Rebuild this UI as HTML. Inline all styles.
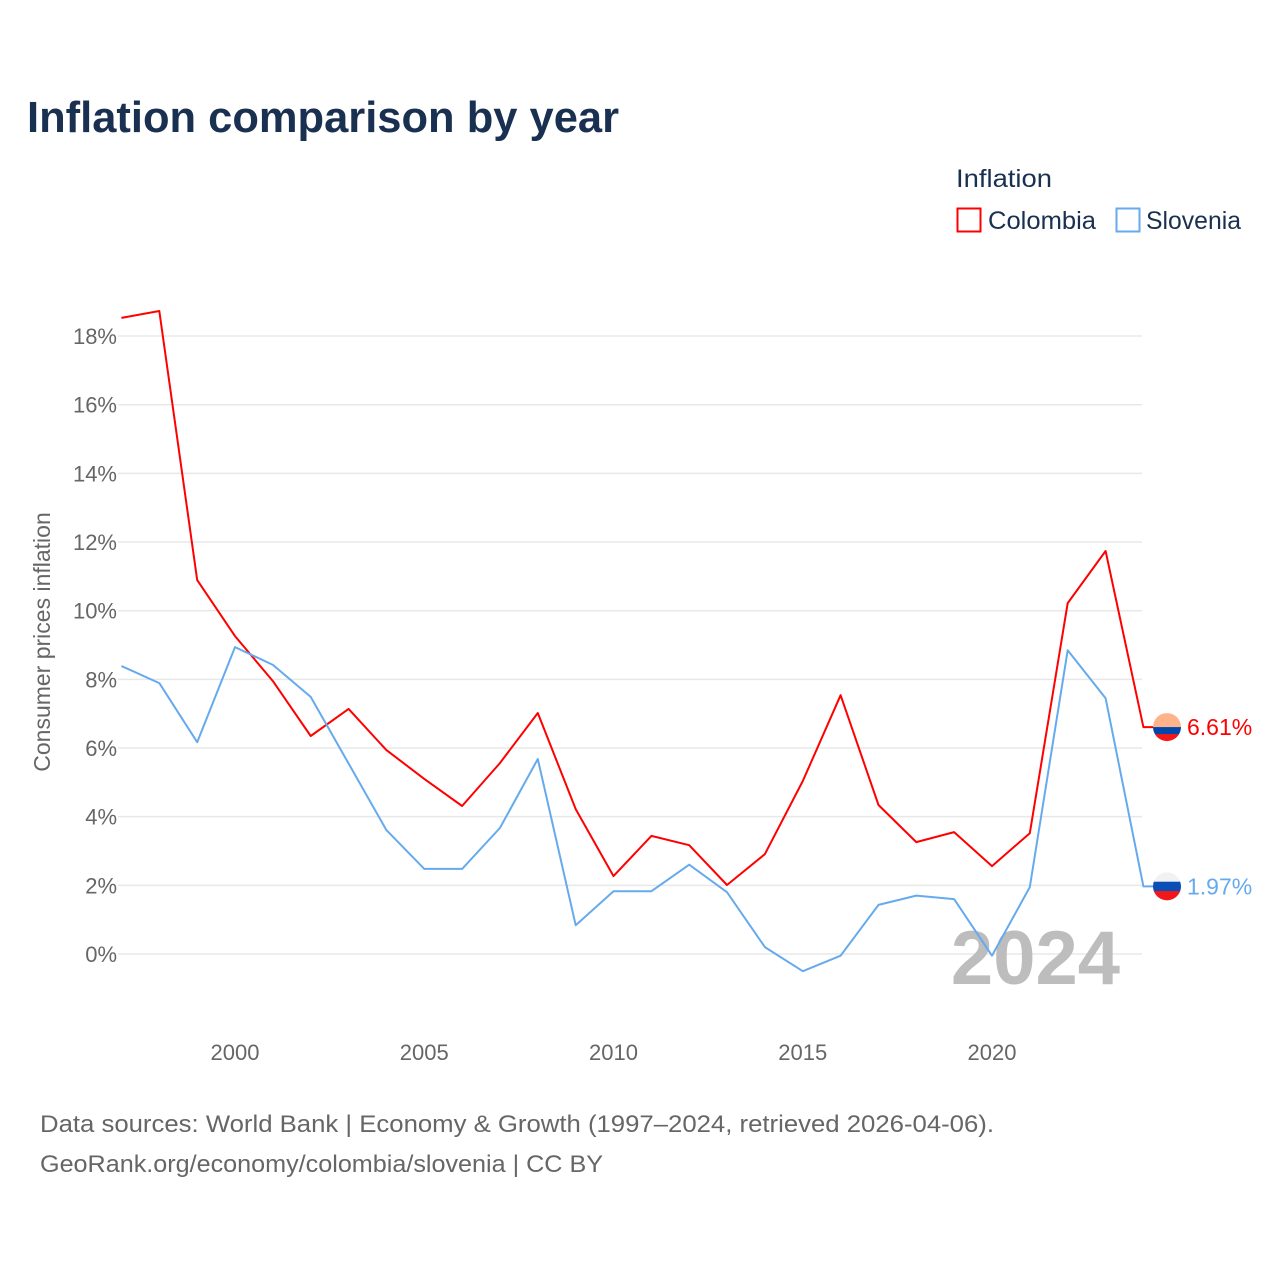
<!DOCTYPE html>
<html><head><meta charset="utf-8">
<style>
html,body{margin:0;padding:0;background:#fff;}
svg{display:block;font-family:"Liberation Sans",sans-serif;}
</style></head>
<body>
<svg id="chart" width="1280" height="1280" viewBox="0 0 1280 1280">
  <text x="27" y="132" font-size="44" font-weight="bold" fill="#1a3050" textLength="592" lengthAdjust="spacingAndGlyphs">Inflation comparison by year</text>
  <g>
    <text x="956" y="187" font-size="25" fill="#1a3050" textLength="96" lengthAdjust="spacingAndGlyphs">Inflation</text>
    <g>
      <rect x="957.5" y="208.5" width="23" height="23" fill="none" stroke="#ff0000" stroke-width="2"/>
      <text x="988" y="229" font-size="25" fill="#1a3050" textLength="108" lengthAdjust="spacingAndGlyphs">Colombia</text>
    </g>
    <g>
      <rect x="1116.5" y="208.5" width="23" height="23" fill="none" stroke="#66aaee" stroke-width="2"/>
      <text x="1146" y="229" font-size="25" fill="#1a3050" textLength="95" lengthAdjust="spacingAndGlyphs">Slovenia</text>
    </g>
  </g>
  <g id="grid"></g>
  <g id="yticks"></g>
  <g id="xticks"></g>
  <text x="50" y="642" font-size="23" fill="#666" text-anchor="middle" transform="rotate(-90 50 642)">Consumer prices inflation</text>
  <text x="1120" y="984" font-size="76" font-weight="bold" fill="#bdbdbd" text-anchor="end">2024</text>
  <g id="series"></g>
  <g>
    <text x="40" y="1132" font-size="24" fill="#666" textLength="954" lengthAdjust="spacingAndGlyphs">Data sources: World Bank | Economy &amp; Growth (1997–2024, retrieved 2026-04-06).</text>
    <text x="40" y="1172" font-size="24" fill="#666" textLength="563" lengthAdjust="spacingAndGlyphs">GeoRank.org/economy/colombia/slovenia | CC BY</text>
  </g>
</svg>
<script>
const years = [1997,1998,1999,2000,2001,2002,2003,2004,2005,2006,2007,2008,2009,2010,2011,2012,2013,2014,2015,2016,2017,2018,2019,2020,2021,2022,2023,2024];
const colombia = [18.53,18.73,10.89,9.26,7.95,6.35,7.14,5.94,5.1,4.31,5.56,7.02,4.22,2.27,3.44,3.17,2.01,2.91,5.04,7.54,4.34,3.26,3.55,2.56,3.52,10.22,11.74,6.61];
const slovenia = [8.39,7.89,6.17,8.94,8.42,7.49,5.55,3.61,2.48,2.48,3.67,5.68,0.84,1.83,1.83,2.6,1.8,0.2,-0.5,-0.05,1.43,1.7,1.6,-0.05,1.95,8.85,7.45,1.97];
const yTicks = [0,2,4,6,8,10,12,14,16,18];
const xTicks = [2000,2005,2010,2015,2020];

const NS = "http://www.w3.org/2000/svg";
const xs = y => 235 + (y - 2000) * 37.85;
const ys = v => 954 - v * 34.33;
function mk(tag, attrs, parent){const e=document.createElementNS(NS,tag);for(const k in attrs)e.setAttribute(k,attrs[k]);parent.appendChild(e);return e;}

const grid = document.getElementById('grid'), yt = document.getElementById('yticks'), xt = document.getElementById('xticks');
yTicks.forEach(t=>{
  const l = mk('line',{x1:118,x2:1142,y1:ys(t),y2:ys(t),stroke:'#e8e8e8','stroke-width':1.5},grid);
  
  
  const tx = mk('text',{x:117,y:ys(t)+8,'font-size':22,fill:'#666','text-anchor':'end'},yt);
  tx.textContent = t + '%';
  
  
});
xTicks.forEach(t=>{
  const tx = mk('text',{x:xs(t),y:1060,'font-size':22,fill:'#666','text-anchor':'middle'},xt);
  tx.textContent = t;
  
  
});

const sg = document.getElementById('series');
function drawSeries(vals, color, name, flag, weights){
  const last = vals[vals.length-1];
  let d = vals.map((v,i)=>(i?'L':'M')+xs(years[i]).toFixed(1)+','+ys(v).toFixed(1)).join(' ');
  d += ' L'+(xs(years[years.length-1])+10).toFixed(1)+','+ys(last).toFixed(1);
  const p = mk('path',{d:d,fill:'none',stroke:color,'stroke-width':2,'stroke-linejoin':'round'},sg);
  
  
  const cx = 1167, cy = ys(last);
  const g = mk('g',{},sg);
  
  
  const id = 'clip-'+name;
  const cp = mk('clipPath',{id:id},g); mk('circle',{cx:cx,cy:cy,r:14},cp);
  const tot = weights.reduce((a,b)=>a+b,0);
  let yy = cy-14;
  flag.forEach((c,i)=>{const h=28*weights[i]/tot; mk('rect',{x:cx-14,y:yy,width:28,height:h+0.5,fill:c,'clip-path':'url(#'+id+')'},g); yy+=h;});
  const lab = mk('text',{x:1187,y:cy+8,'font-size':23,fill:color},sg);
  lab.textContent = last.toFixed(2)+'%';
  
  
}
drawSeries(colombia,'#ff0000','colombia',['#ffb38a','#0047ab','#f01818'],[2,1,1]);
drawSeries(slovenia,'#66aaee','slovenia',['#f2f2f2','#0a4fb5','#f01818'],[1,1,1]);
</script>
</body></html>
